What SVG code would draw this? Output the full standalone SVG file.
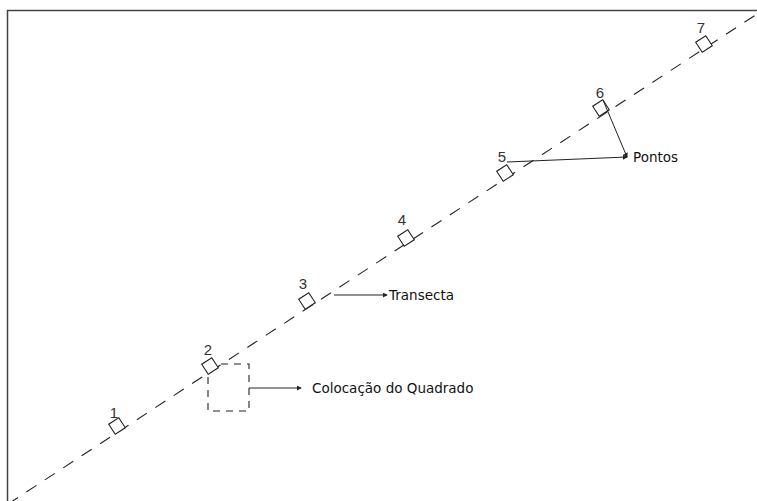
<svg xmlns="http://www.w3.org/2000/svg" width="757" height="501" viewBox="0 0 757 501">
<style>
.frame{stroke:#444;stroke-width:1.5;fill:none}
.transect{stroke:#222;stroke-width:1.1;stroke-dasharray:12 10;fill:none}
.sq{fill:#fff;stroke:#222;stroke-width:1.1}
.num{font-family:"Liberation Sans",Arial,sans-serif;font-size:15px;fill:#333;text-anchor:middle}
.lbl{font-family:"DejaVu Sans",Verdana,sans-serif;font-size:13.5px;fill:#111}
.arrow{stroke:#222;stroke-width:1;fill:none;marker-end:url(#ah)}
.quad{stroke:#222;stroke-width:1.1;stroke-dasharray:7 6;fill:none}
</style>
<defs>
<marker id="ah" viewBox="0 0 6 6" refX="5" refY="3" markerWidth="5" markerHeight="5" markerUnits="userSpaceOnUse" orient="auto">
<path d="M0,0 L6,3 L0,6 z" fill="#222"/>
</marker>
</defs>
<rect width="757" height="501" fill="#fff"/>
<path class="frame" d="M7.5,501 V10.5 H757"/>
<g id="transecta-line">
<line class="transect" x1="8" y1="504" x2="757" y2="14"/>
</g>
<g id="quadrado">
<rect class="quad" x="208" y="364" width="41" height="47"/>
</g>
<g id="p1"><rect class="sq" x="-6" y="-6" width="12" height="12" transform="translate(117,426) rotate(-33)"/><text class="num" x="114" y="418">1</text></g>
<g id="p2"><rect class="sq" x="-6" y="-6" width="12" height="12" transform="translate(210,366) rotate(-33)"/><text class="num" x="208" y="355">2</text></g>
<g id="p3"><rect class="sq" x="-6" y="-6" width="12" height="12" transform="translate(307,301) rotate(-33)"/><text class="num" x="303" y="289">3</text></g>
<g id="p4"><rect class="sq" x="-6" y="-6" width="12" height="12" transform="translate(406,238) rotate(-33)"/><text class="num" x="402" y="225">4</text></g>
<g id="p5"><rect class="sq" x="-6" y="-6" width="12" height="12" transform="translate(505,173) rotate(-33)"/><text class="num" x="502" y="162">5</text></g>
<g id="p6"><rect class="sq" x="-6" y="-6" width="12" height="12" transform="translate(601,108) rotate(-33)"/><text class="num" x="600" y="98">6</text></g>
<g id="p7"><rect class="sq" x="-6" y="-6" width="12" height="12" transform="translate(704,44) rotate(-33)"/><text class="num" x="701" y="33">7</text></g>
<g id="connectors">
<line class="arrow" x1="334" y1="295" x2="387" y2="295"/>
<line class="arrow" x1="249" y1="388" x2="301" y2="388"/>
<line class="arrow" x1="507" y1="162" x2="627" y2="157"/>
<line class="arrow" x1="603" y1="100" x2="627" y2="157"/>
</g>
<g id="label-transecta"><text class="lbl" x="389" y="300">Transecta</text></g>
<g id="label-quadrado"><text class="lbl" x="312" y="393">Colocação do Quadrado</text></g>
<g id="label-pontos"><text class="lbl" x="633" y="162">Pontos</text></g>
</svg>
